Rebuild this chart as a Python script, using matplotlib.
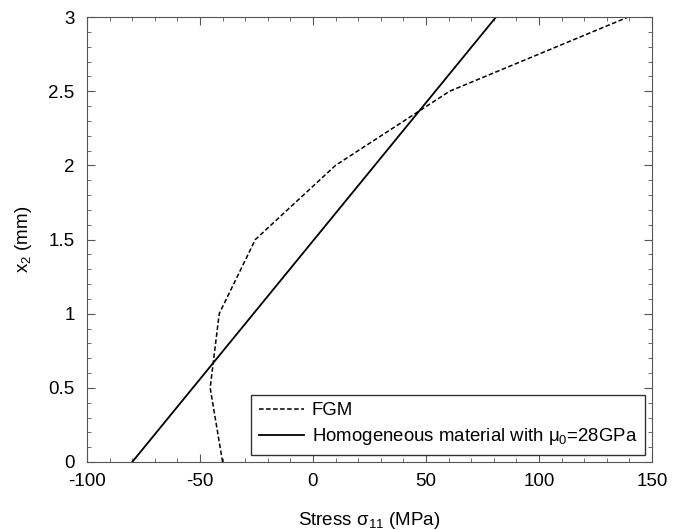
import matplotlib
matplotlib.use('Agg')
import matplotlib.pyplot as plt
from matplotlib.ticker import MultipleLocator, FormatStrFormatter

plt.rcParams['font.family'] = ['Liberation Sans', 'DejaVu Sans']
plt.rcParams['mathtext.fontset'] = 'custom'
plt.rcParams['mathtext.rm'] = 'Liberation Sans'
plt.rcParams['mathtext.it'] = 'Liberation Sans'
plt.rcParams['axes.unicode_minus'] = False

# FGM stress profile
fgm_x2 = [0.0, 0.5, 1.0, 1.5, 2.0, 2.5, 3.0]
fgm_stress = [-40, -45.5, -41.5, -25.5, 10, 60.5, 139.5]

# homogeneous material
homo_x2 = [0.0, 3.0]
homo_stress = [-80, 81]

fig = plt.figure(figsize=(6.8, 5.3), dpi=100)
ax = fig.add_axes([87 / 680, 68 / 530, 565 / 680, 445 / 530])

ax.plot(fgm_stress, fgm_x2, color='black', lw=1.1, ls=(0, (3, 1.6)), label='FGM')
ax.plot(homo_stress, homo_x2, color='black', lw=1.3,
        label=r'Homogeneous material with $\mathrm{\mu_0}$=28GPa')

ax.set_xlim(-100, 150)
ax.set_ylim(0, 3)
ax.xaxis.set_major_locator(MultipleLocator(50))
ax.xaxis.set_minor_locator(MultipleLocator(10))
ax.yaxis.set_major_locator(MultipleLocator(0.5))
ax.yaxis.set_minor_locator(MultipleLocator(0.1))
ax.yaxis.set_major_formatter(FormatStrFormatter('%g'))
ax.tick_params(which='both', direction='in', top=True, right=True, color='#555555')
ax.tick_params(which='major', length=6, labelsize=13.5)
ax.tick_params(axis='x', which='major', pad=8)
ax.tick_params(axis='y', which='major', pad=9)
ax.tick_params(which='minor', length=3)
for s in ax.spines.values():
    s.set_color('#555555')

ax.set_xlabel(r'Stress $\mathrm{\sigma_{11}}$ (MPa)', fontsize=13.5, labelpad=14)
ax.set_ylabel(r'x$_\mathrm{2}$ (mm)', fontsize=13.5, labelpad=10)

leg = ax.legend(loc='lower right', fontsize=13.4, fancybox=False, framealpha=1,
                edgecolor='#333333', borderaxespad=0.38, handlelength=2.4,
                handletextpad=0.45, labelspacing=0.4, borderpad=0.4)
leg.get_frame().set_linewidth(1.0)

fig.savefig('out.png', dpi=100)
